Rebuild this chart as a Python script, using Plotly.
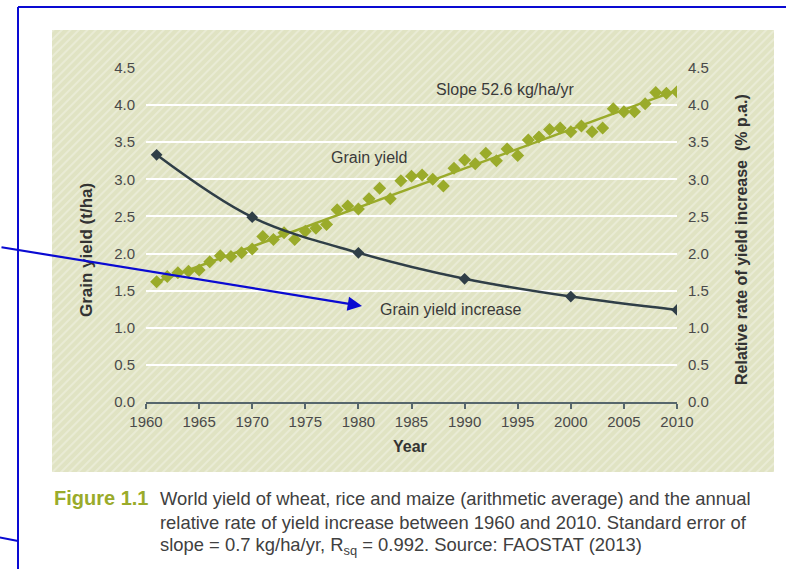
import base64
import plotly.graph_objects as go

# ---- data ----
years = list(range(1961, 2011))
grain_yield = [1.62, 1.69, 1.74, 1.76, 1.78, 1.89, 1.97, 1.96, 2.01, 2.06,
               2.23, 2.19, 2.28, 2.19, 2.30, 2.34, 2.39, 2.59, 2.64, 2.60,
               2.74, 2.88, 2.74, 2.98, 3.04, 3.06, 3.00, 2.91, 3.15, 3.26,
               3.21, 3.35, 3.25, 3.41, 3.32, 3.53, 3.57, 3.67, 3.69, 3.64,
               3.72, 3.64, 3.69, 3.95, 3.91, 3.91, 4.02, 4.17, 4.16, 4.18]
trend_years = [1961, 2010]
trend_values = [1.62, 4.20]
incr_years = [1961, 1970, 1980, 1990, 2000, 2010]
incr_values = [3.33, 2.49, 2.01, 1.66, 1.42, 1.24]
x_ticks = list(range(1960, 2011, 5))
y_ticks = [0.0, 0.5, 1.0, 1.5, 2.0, 2.5, 3.0, 3.5, 4.0, 4.5]

GREEN = "#9aab2a"
DARK = "#2f3e47"
BLUE = "#0a0ad2"
FONT = "Liberation Sans, Arial, sans-serif"

W, H = 786, 569
L, R, T, B = 146, 677, 68, 402


def px(x):
    return (x - L) / (R - L)


def py(y):
    return (B - y) / (B - T)


fig = go.Figure()

fig.add_trace(go.Scatter(x=trend_years, y=trend_values, mode="lines",
                         line=dict(color=GREEN, width=2.5), showlegend=False,
                         hoverinfo="skip"))
fig.add_trace(go.Scatter(x=years, y=grain_yield, mode="markers",
                         marker=dict(symbol="diamond", size=10, color=GREEN),
                         showlegend=False))
fig.add_trace(go.Scatter(x=incr_years, y=incr_values, mode="lines+markers",
                         line=dict(color=DARK, width=2.5, shape="spline", smoothing=1.0),
                         marker=dict(symbol="diamond", size=9, color=DARK),
                         yaxis="y2", showlegend=False))

# hatched panel background
pw, ph = 722, 442
svg = (f"<svg xmlns='http://www.w3.org/2000/svg' width='{pw}' height='{ph}'>"
       "<defs><pattern id='p' width='6' height='6' patternUnits='userSpaceOnUse' "
       "patternTransform='rotate(45)'><rect width='6' height='6' fill='#e0e3c3'/>"
       "<rect width='2' height='6' fill='#e9ebd5'/></pattern></defs>"
       f"<rect width='{pw}' height='{ph}' fill='url(#p)'/></svg>")
src = "data:image/svg+xml;base64," + base64.b64encode(svg.encode()).decode()

tickfont = dict(family=FONT, size=15, color="#4a4a4a")
titlefont = dict(family=FONT, size=16, color="#333333")
notefont = dict(family=FONT, size=16, color="#3a3a3a")
capfont = dict(family=FONT, size=18.4, color="#404040")


def note(x, y, text, **kw):
    d = dict(x=px(x), y=py(y), xref="paper", yref="paper", text=text,
             showarrow=False, xanchor="center", yanchor="middle")
    d.update(kw)
    return d


annotations = [
    note(86, 250, "<b>Grain yield (t/ha)</b>", textangle=-90,
         font=dict(family=FONT, size=17, color="#333333")),
    note(741, 240, "<b>Relative rate of yield increase  (% p.a.)</b>",
         textangle=-90, font=titlefont),
    note(410, 447, "<b>Year</b>", font=titlefont),
    note(505, 90, "Slope 52.6 kg/ha/yr", font=notefont),
    note(369, 157, "Grain yield", font=notefont),
    note(451, 309, "Grain yield increase", font=notefont),
    note(52, 498, "<b>Figure 1.1</b>", xanchor="left",
         font=dict(family=FONT, size=20, color=GREEN)),
    note(158, 498, "World yield of wheat, rice and maize (arithmetic average) and the annual",
         xanchor="left", font=capfont),
    note(158, 522, "relative rate of yield increase between 1960 and 2010. Standard error of",
         xanchor="left", font=capfont),
    note(158, 546, "slope = 0.7 kg/ha/yr, R<sub>sq</sub> = 0.992. Source: FAOSTAT (2013)",
         xanchor="left", font=capfont),
    # blue arrow drawn over the picture
    note(362, 306, "", showarrow=True, ax=-362, ay=-59,
         arrowhead=2, arrowsize=1.3, arrowwidth=2.2, arrowcolor=BLUE),
]

shapes = [
    dict(type="line", xref="paper", yref="paper", x0=px(18), y0=py(7), x1=px(790), y1=py(7),
         line=dict(color=BLUE, width=2)),
    dict(type="line", xref="paper", yref="paper", x0=px(18), y0=py(7), x1=px(18), y1=py(575),
         line=dict(color=BLUE, width=2)),
    dict(type="line", xref="paper", yref="paper", x0=px(-2), y0=py(537), x1=px(18), y1=py(541),
         line=dict(color=BLUE, width=2)),
]

fig.update_layout(
    width=W, height=H,
    margin=dict(l=L, r=W - R, t=T, b=H - B, pad=0),
    paper_bgcolor="white", plot_bgcolor="rgba(0,0,0,0)",
    images=[dict(source=src, xref="paper", yref="paper", x=px(52), y=py(30),
                 sizex=pw / (R - L), sizey=ph / (B - T), sizing="stretch",
                 xanchor="left", yanchor="top", layer="below")],
    xaxis=dict(range=[1960, 2010], tickvals=x_ticks, showgrid=False, zeroline=False,
               showline=True, linecolor="#56666c", linewidth=1.5, ticks="outside",
               ticklen=5, tickwidth=1.5, tickcolor="#56666c", tickfont=tickfont),
    yaxis=dict(range=[0, 4.5], tickvals=y_ticks, tickformat=".1f", showgrid=True,
               gridcolor="white", gridwidth=1.5, zeroline=False, showline=False,
               ticks="", ticklabelstandoff=10, tickfont=tickfont),
    yaxis2=dict(range=[0, 4.5], tickvals=y_ticks, tickformat=".1f", overlaying="y",
                side="right", showgrid=False, zeroline=False, showline=False,
                ticks="", ticklabelstandoff=10, tickfont=tickfont),
    annotations=annotations, shapes=shapes,
)

fig.write_html("out.html", config={"displayModeBar": False},
               post_script="document.body.style.margin='0';document.body.style.overflow='hidden';")
